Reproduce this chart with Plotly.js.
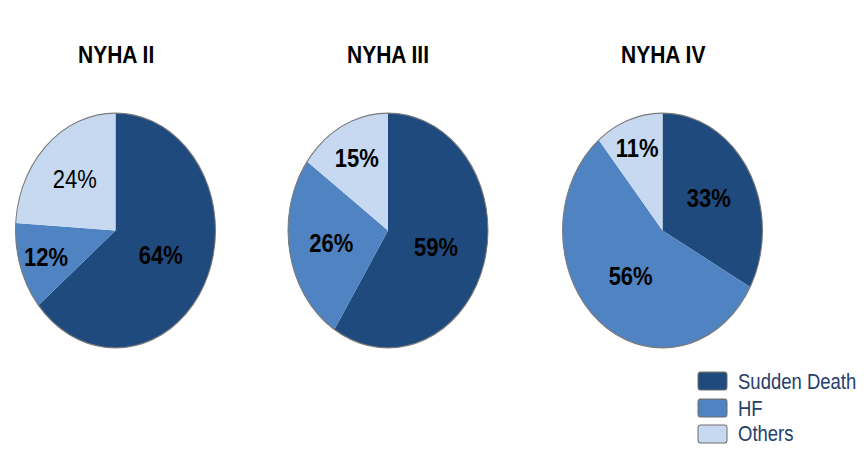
<!DOCTYPE html>
<html>
<head>
<meta charset="utf-8">
<script src="https://cdn.plot.ly/plotly-3.0.1.min.js"></script>
<style>
  html { margin: 0; padding: 0; background: #ffffff; overflow: hidden; }
  body { margin: 0; padding: 0; background: #ffffff; width: 868px; height: 465px; }
  #chart { width: 868px; height: 396px; transform: scaleY(1.1742); transform-origin: 0 0; }
</style>
</head>
<body>
<div id="chart"></div>
<script>
const categories = ["Sudden Death", "HF", "Others"];
const groupTitles = ["NYHA II", "NYHA III", "NYHA IV"];
const nyhaII = [64, 12, 24];
const nyhaIII = [59, 26, 15];
const nyhaIV = [33, 56, 11];
const seriesValues = [nyhaII, nyhaIII, nyhaIV];
// whether each slice label is bold (as in the reference)
const boldLabels = [[true, true, false], [true, true, true], [true, true, true]];

const colors = ["#1f4a7e", "#4f83c1", "#c6d9f0"];
const domainsX = [[0.0173, 0.2488], [0.3306, 0.5634], [0.6452, 0.8813]];
const domainY = [0.2518, 0.7568];
const titleX = [0.134, 0.447, 0.764];
const W = 868, H = 396;

const traces = seriesValues.map((vals, i) => ({
  type: "pie",
  labels: categories,
  values: vals,
  sort: false,
  direction: "clockwise",
  rotation: 0,
  domain: { x: domainsX[i], y: domainY },
  marker: { colors: colors, line: { width: 0 } },
  text: vals.map(v => v + "%"),
  texttemplate: vals.map((v, j) => boldLabels[i][j] ? "<b>%{text}</b>" : "%{text}"),
  textposition: "inside",
  insidetextorientation: "horizontal",
  insidetextfont: { family: "Liberation Sans, Arial, sans-serif", size: 22, color: "#000000" },
  hoverinfo: "label+percent",
  showlegend: false
}));

// thin grey outer rim for each pie (whole-pie outline, same total as the data)
const rims = seriesValues.map((vals, i) => ({
  type: "pie",
  labels: ["total"],
  values: [vals.reduce((a, b) => a + b, 0)],
  sort: false,
  domain: { x: domainsX[i], y: domainY },
  marker: { colors: ["rgba(0,0,0,0)"], line: { color: "#7a7a7a", width: 1 } },
  textinfo: "none",
  hoverinfo: "skip",
  showlegend: false
}));

// legend (swatch + label per category), laid out in pixel units of the unscaled plot
const legendLeftPx = 698, swatchWPx = 29, swatchHPx = 15.3, textLeftPx = 737;
const legendRowPx = [324.5, 347.5, 369.6];
const rr = 2.5;
function roundedRectPath(x0p, x1p, ycPx) {
  const X = px => (px / W).toFixed(5), Y = py => (1 - py / H).toFixed(5);
  const t = ycPx - swatchHPx / 2, b = ycPx + swatchHPx / 2;
  return `M${X(x0p + rr)},${Y(t)} L${X(x1p - rr)},${Y(t)} Q${X(x1p)},${Y(t)} ${X(x1p)},${Y(t + rr)} ` +
         `L${X(x1p)},${Y(b - rr)} Q${X(x1p)},${Y(b)} ${X(x1p - rr)},${Y(b)} ` +
         `L${X(x0p + rr)},${Y(b)} Q${X(x0p)},${Y(b)} ${X(x0p)},${Y(b - rr)} ` +
         `L${X(x0p)},${Y(t + rr)} Q${X(x0p)},${Y(t)} ${X(x0p + rr)},${Y(t)} Z`;
}
const legendShapes = categories.map((c, k) => ({
  type: "path", xref: "paper", yref: "paper",
  path: roundedRectPath(legendLeftPx, legendLeftPx + swatchWPx, legendRowPx[k]),
  fillcolor: colors[k], line: { color: "#6f6f6f", width: 1 }
}));
const legendTexts = categories.map((c, k) => ({
  text: c, x: textLeftPx / W, y: 1 - legendRowPx[k] / H, xref: "paper", yref: "paper",
  xanchor: "left", yanchor: "middle", showarrow: false, borderpad: 0,
  font: { size: 18.5, color: "#24406a", family: "Liberation Sans, Arial, sans-serif" }
}));

const layout = {
  width: W,
  height: H,
  margin: { l: 0, r: 0, t: 0, b: 0 },
  paper_bgcolor: "#ffffff",
  font: { family: "Liberation Sans, Arial, sans-serif" },
  showlegend: false,
  shapes: legendShapes,
  annotations: groupTitles.map((t, i) => ({
    text: "<b>" + t + "</b>",
    x: titleX[i], y: 0.882, xref: "paper", yref: "paper",
    xanchor: "center", yanchor: "middle", showarrow: false,
    font: { size: 21, color: "#000000", family: "Liberation Sans, Arial, sans-serif" }
  })).concat(legendTexts)
};

Plotly.newPlot("chart", traces.concat(rims), layout, { displayModeBar: false, staticPlot: true });
</script>
</body>
</html>
